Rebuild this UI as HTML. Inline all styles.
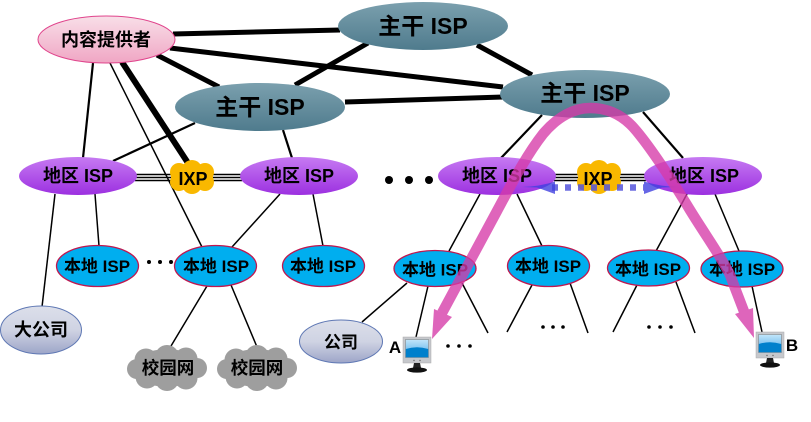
<!DOCTYPE html>
<html><head><meta charset="utf-8"><style>
html,body{margin:0;padding:0;background:#fff;width:811px;height:422px;overflow:hidden}
svg{display:block}
text{font-family:"Liberation Sans","Noto Sans CJK SC",sans-serif;font-weight:bold;fill:#000;text-anchor:middle}
</style></head><body>
<svg width="811" height="422" viewBox="0 0 811 422" xmlns="http://www.w3.org/2000/svg">
<defs>
<linearGradient id="m" x1="0" y1="0" x2="0" y2="1"><stop offset="0" stop-color="#7ba0ae"/><stop offset="1" stop-color="#4f7b8d"/></linearGradient>
<linearGradient id="p" x1="0" y1="0" x2="0" y2="1"><stop offset="0" stop-color="#c67af2"/><stop offset="1" stop-color="#9c30e0"/></linearGradient>
<linearGradient id="k" x1="0" y1="0" x2="0" y2="1"><stop offset="0" stop-color="#f8dfe8"/><stop offset="1" stop-color="#f0a6c4"/></linearGradient>
<linearGradient id="g" x1="0" y1="0" x2="0" y2="1"><stop offset="0" stop-color="#dcdfea"/><stop offset=".5" stop-color="#cfd3e3"/><stop offset="1" stop-color="#9da5c8"/></linearGradient>
<linearGradient id="sc" x1="0" y1="0" x2="0" y2="1"><stop offset="0" stop-color="#c2e6fb"/><stop offset="1" stop-color="#4aa8e6"/></linearGradient>
<g id="ixp" fill="#f9b800"><circle cx="-13" cy="-5" r="9"/><circle cx="0" cy="-7" r="10"/><circle cx="13" cy="-5" r="9"/><circle cx="-13" cy="5" r="9"/><circle cx="0" cy="7" r="10"/><circle cx="13" cy="5" r="9"/><ellipse rx="21" ry="14"/></g>
<g id="cl" fill="#9e9e9e"><circle cx="-21" cy="-8" r="11.500"/><circle cx="0" cy="-11" r="12"/><circle cx="19" cy="-9" r="11.500"/><circle cx="-30" cy="1" r="10"/><circle cx="30" cy="0" r="10"/><circle cx="-20" cy="9" r="11.500"/><circle cx="0" cy="11" r="12"/><circle cx="19" cy="10" r="11.500"/><ellipse rx="34" ry="19"/></g>
<g id="mon">
<rect x="0" y="0" width="28" height="26" fill="#c6c8cc" stroke="#aaa" stroke-width=".5"/>
<rect x="2.500" y="2.500" width="23" height="18" fill="url(#sc)" stroke="#777" stroke-width=".5"/>
<path d="M2.800 12 Q14 8.500 25.200 12 V20.200 H2.800 Z" fill="#0080cc"/>
<circle cx="11" cy="23.500" r=".7" fill="#666"/><circle cx="17" cy="23.500" r=".7" fill="#666"/>
<path d="M11 26 H17 L18 31 H10 Z" fill="#222"/>
<ellipse cx="14" cy="33" rx="10" ry="2.600" fill="#111"/>
</g>
</defs>

<g stroke="#000" fill="none" stroke-linecap="butt">
<g stroke-width="5">
<line x1="173" y1="34" x2="340" y2="30"/>
<line x1="170" y1="48" x2="503" y2="87"/>
<line x1="157" y1="55" x2="219" y2="87"/>
<line x1="295" y1="85" x2="368" y2="43"/>
<line x1="345" y1="102" x2="503" y2="97"/>
<line x1="477" y1="45" x2="532" y2="75"/>
</g>
<line x1="122" y1="62" x2="188" y2="163" stroke-width="6"/>
<g stroke-width="2.2">
<line x1="93" y1="63" x2="83" y2="158"/>
<line x1="195" y1="123" x2="113" y2="161"/>
<line x1="283" y1="130" x2="292" y2="158"/>
<line x1="542" y1="115" x2="501" y2="158"/>
<line x1="643" y1="112" x2="683" y2="158"/>
</g>
<g stroke-width="1.5">
<line x1="110" y1="63" x2="202" y2="247"/>
<line x1="55" y1="194" x2="42" y2="307"/>
<line x1="95" y1="194" x2="99" y2="246"/>
<line x1="280" y1="194" x2="232" y2="247"/>
<line x1="313" y1="194" x2="323" y2="246"/>
<line x1="207" y1="286" x2="171" y2="346"/>
<line x1="231" y1="285" x2="257" y2="347"/>
<line x1="362" y1="322" x2="407" y2="283"/>
<line x1="480" y1="194" x2="449" y2="251"/>
<line x1="517" y1="194" x2="542" y2="246"/>
<line x1="687" y1="194" x2="656" y2="251"/>
<line x1="715" y1="194" x2="739" y2="251"/>
<line x1="428" y1="286" x2="416" y2="337"/>
<line x1="462" y1="283" x2="488" y2="333"/>
<line x1="532" y1="285" x2="507" y2="332"/>
<line x1="570" y1="283" x2="588" y2="333"/>
<line x1="637" y1="285" x2="613" y2="332"/>
<line x1="676" y1="282" x2="695" y2="333"/>
<line x1="752" y1="286" x2="762" y2="332"/>
</g>
<g stroke-width="1.500">
<line x1="135" y1="174.500" x2="242" y2="174.500"/><line x1="135" y1="177.500" x2="242" y2="177.500"/><line x1="135" y1="180.500" x2="242" y2="180.500"/>
<line x1="554" y1="174.500" x2="646" y2="174.500"/><line x1="554" y1="177.500" x2="646" y2="177.500"/><line x1="554" y1="180.500" x2="646" y2="180.500"/>
</g>
</g>

<g stroke-width="1">
<ellipse cx="106.500" cy="39.500" rx="68.500" ry="23.500" fill="url(#k)" stroke="#e0448c"/>
<ellipse cx="423" cy="26" rx="85" ry="24" fill="url(#m)"/>
<ellipse cx="260" cy="107" rx="85" ry="24" fill="url(#m)"/>
<ellipse cx="585" cy="94" rx="85" ry="24" fill="url(#m)"/>
<ellipse cx="78" cy="176" rx="59" ry="19" fill="url(#p)"/>
<ellipse cx="299" cy="176" rx="59" ry="19" fill="url(#p)"/>
<ellipse cx="497" cy="176" rx="59" ry="19" fill="url(#p)"/>
<ellipse cx="703" cy="176" rx="59" ry="19" fill="url(#p)"/>
</g>
<use href="#ixp" x="192" y="177"/>
<use href="#ixp" x="599" y="177"/>
<g fill="#00aeef" stroke="#c0174f" stroke-width="1.300">
<ellipse cx="97.500" cy="266" rx="41" ry="20.500"/>
<ellipse cx="215.500" cy="266" rx="41" ry="20.500"/>
<ellipse cx="323.500" cy="266" rx="41" ry="20.500"/>
<ellipse cx="435" cy="268.500" rx="41" ry="18"/>
<ellipse cx="548.500" cy="266" rx="41" ry="20.500"/>
<ellipse cx="648.500" cy="268" rx="41" ry="18"/>
<ellipse cx="742" cy="269" rx="41" ry="18"/>
</g>
<ellipse cx="41" cy="330" rx="40.500" ry="24" fill="url(#g)" stroke="#5f78b4" stroke-width="1"/>
<ellipse cx="341" cy="341.500" rx="41.500" ry="21.500" fill="url(#g)" stroke="#5f78b4" stroke-width="1"/>
<use href="#cl" x="167" y="368"/>
<use href="#cl" x="257" y="368"/>

<use href="#mon" x="403" y="337"/>
<use href="#mon" x="756" y="332"/>

<g fill="#000">
<circle cx="389" cy="180" r="4"/><circle cx="409" cy="180" r="4"/><circle cx="429" cy="180" r="4"/>
<circle cx="149" cy="262" r="2"/><circle cx="160" cy="262" r="2"/><circle cx="171" cy="262" r="2"/>
<circle cx="448" cy="346" r="1.800"/><circle cx="459" cy="346" r="1.800"/><circle cx="470" cy="346" r="1.800"/>
<circle cx="543" cy="327" r="1.800"/><circle cx="553" cy="327" r="1.800"/><circle cx="563" cy="327" r="1.800"/>
<circle cx="649" cy="327" r="1.800"/><circle cx="660" cy="327" r="1.800"/><circle cx="671" cy="327" r="1.800"/>
</g>

<text x="106" y="46" font-size="18">内容提供者</text>
<text x="423" y="34" font-size="23">主干 ISP</text>
<text x="260" y="115" font-size="23">主干 ISP</text>
<text x="585" y="101" font-size="23">主干 ISP</text>
<text x="78" y="182" font-size="18">地区 ISP</text>
<text x="299" y="182" font-size="18">地区 ISP</text>
<text x="497" y="182" font-size="18">地区 ISP</text>
<text x="704" y="182" font-size="18">地区 ISP</text>
<text x="193" y="185" font-size="18">IXP</text>
<text x="598" y="185" font-size="18">IXP</text>
<text x="97" y="272" font-size="17">本地 ISP</text>
<text x="216" y="272" font-size="17">本地 ISP</text>
<text x="323" y="272" font-size="17">本地 ISP</text>
<text x="435" y="275.500" font-size="17">本地 ISP</text>
<text x="548" y="272" font-size="17">本地 ISP</text>
<text x="648" y="275" font-size="17">本地 ISP</text>
<text x="742" y="275" font-size="17">本地 ISP</text>
<text x="41" y="336" font-size="18">大公司</text>
<text x="341" y="348" font-size="17">公司</text>
<text x="168" y="374" font-size="17.500">校园网</text>
<text x="257" y="374" font-size="17.500">校园网</text>
<text x="395" y="353" font-size="17">A</text>
<text x="792" y="351" font-size="17">B</text>

<g>
<line x1="552" y1="187.500" x2="644" y2="187.500" stroke="#5555dc" stroke-opacity=".85" stroke-width="6.500" stroke-dasharray="6 7"/>
<path d="M522 187 Q540 186.500 555 181.500 L555 194 L537 187.500 Z" fill="#4040e0" fill-opacity=".8"/>
<path d="M678 187 Q660 186.500 644 181.500 L644 194 L662 187.500 Z" fill="#4040e0" fill-opacity=".8"/>
</g>

<g opacity=".78" fill="#d63aa8">
<path d="M442 313 L497 211 C510 187 525 157 543 134 C558 116 575 108 590 108 C606 108 621 114 633 127 C650 146 675 185 690 210 C706 236 722 258 730 275 L745 314" fill="none" stroke="#d63aa8" stroke-width="10.500"/>
<path d="M432 339 L434 309 L452 317 Z"/>
<path d="M754 338 L735 314 L753 308 Z"/>
</g>
</svg>
</body></html>
